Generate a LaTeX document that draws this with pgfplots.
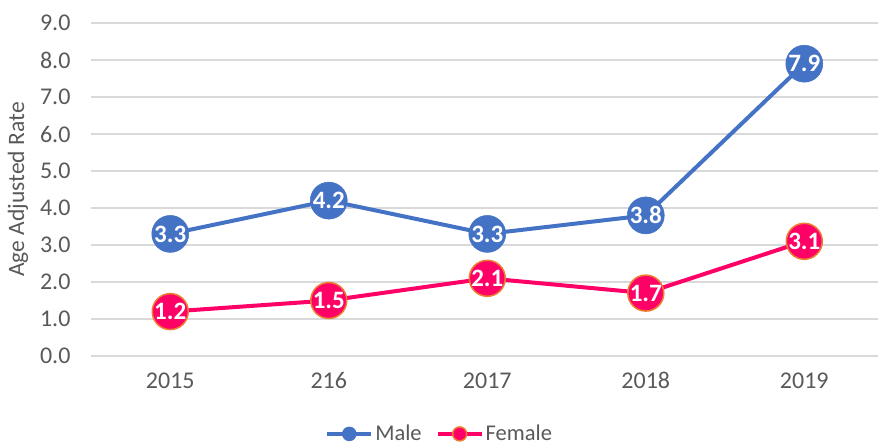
\documentclass[border=0pt]{standalone}
\usepackage{pgfplots}
\pgfplotsset{compat=1.18}
\usepackage{fontspec}
\setmainfont{Carlito}
\definecolor{male}{HTML}{4472C4}
\definecolor{female}{HTML}{FF0066}
\definecolor{forange}{HTML}{ED7D31}
\definecolor{txt}{HTML}{595959}
\definecolor{gridc}{HTML}{D9D9D9}
\begin{document}
\begin{tikzpicture}[x=1pt,y=1pt]
\path[use as bounding box] (0,0) rectangle (878,447);
\begin{axis}[
  at={(91pt,91pt)}, anchor=south west,
  scale only axis, width=787pt, height=333pt,
  xmin=-0.5, xmax=4.465, ymin=0, ymax=9,
  ytick={0,1,...,9}, xtick={0,1,2,3,4},
  xticklabels={2015,216,2017,2018,2019},
  axis line style={draw=none},
  major tick length=0pt,
  ymajorgrids, grid style={gridc, line width=1.3pt},
  clip=false,
  /pgf/number format/assume math mode=true,
  yticklabel={\pgfmathprintnumber[fixed,fixed zerofill,precision=1]{\tick}},
  tick label style={font=\fontsize{24}{27}\selectfont, text=txt},
  yticklabel style={xshift=-17pt},
  xticklabel style={yshift=-13pt},
  ylabel={Age Adjusted Rate},
  ylabel style={at={(axis description cs:-0.0928,0.5)}, anchor=center, font=\fontsize{23.5}{26}\selectfont, text=txt},
  legend style={at={(axis description cs:0.443,-0.234)}, anchor=center, draw=none, fill=none,
    legend columns=2, font=\fontsize{22.5}{25}\selectfont, text=txt, inner sep=1pt,
    /tikz/every even column/.append style={column sep=12pt}},
  legend image code/.code={%
    \draw[mark size=7pt, mark repeat=2, mark phase=2] plot coordinates {(0pt,0pt)(22pt,0pt)(44pt,0pt)};},
  nodes near coords={\pgfmathprintnumber[fixed,fixed zerofill,precision=1]{\pgfplotspointmeta}},
  every node near coord/.style={anchor=center, text=white, font=\fontsize{25}{27}\selectfont\bfseries},
]
\addplot[male, line width=4pt, mark=*, mark size=18.5pt, mark options={fill=male, draw=male, line width=0.5pt}]
  coordinates {(0,3.3) (1,4.2) (2,3.3) (3,3.8) (4,7.9)};
\addlegendentry{Male}
\addplot[female, line width=4pt, mark=*, mark size=18pt, mark options={fill=female, draw=forange, line width=1.5pt}]
  coordinates {(0,1.2) (1,1.5) (2,2.1) (3,1.7) (4,3.1)};
\addlegendentry{Female}
\end{axis}
\end{tikzpicture}
\end{document}
